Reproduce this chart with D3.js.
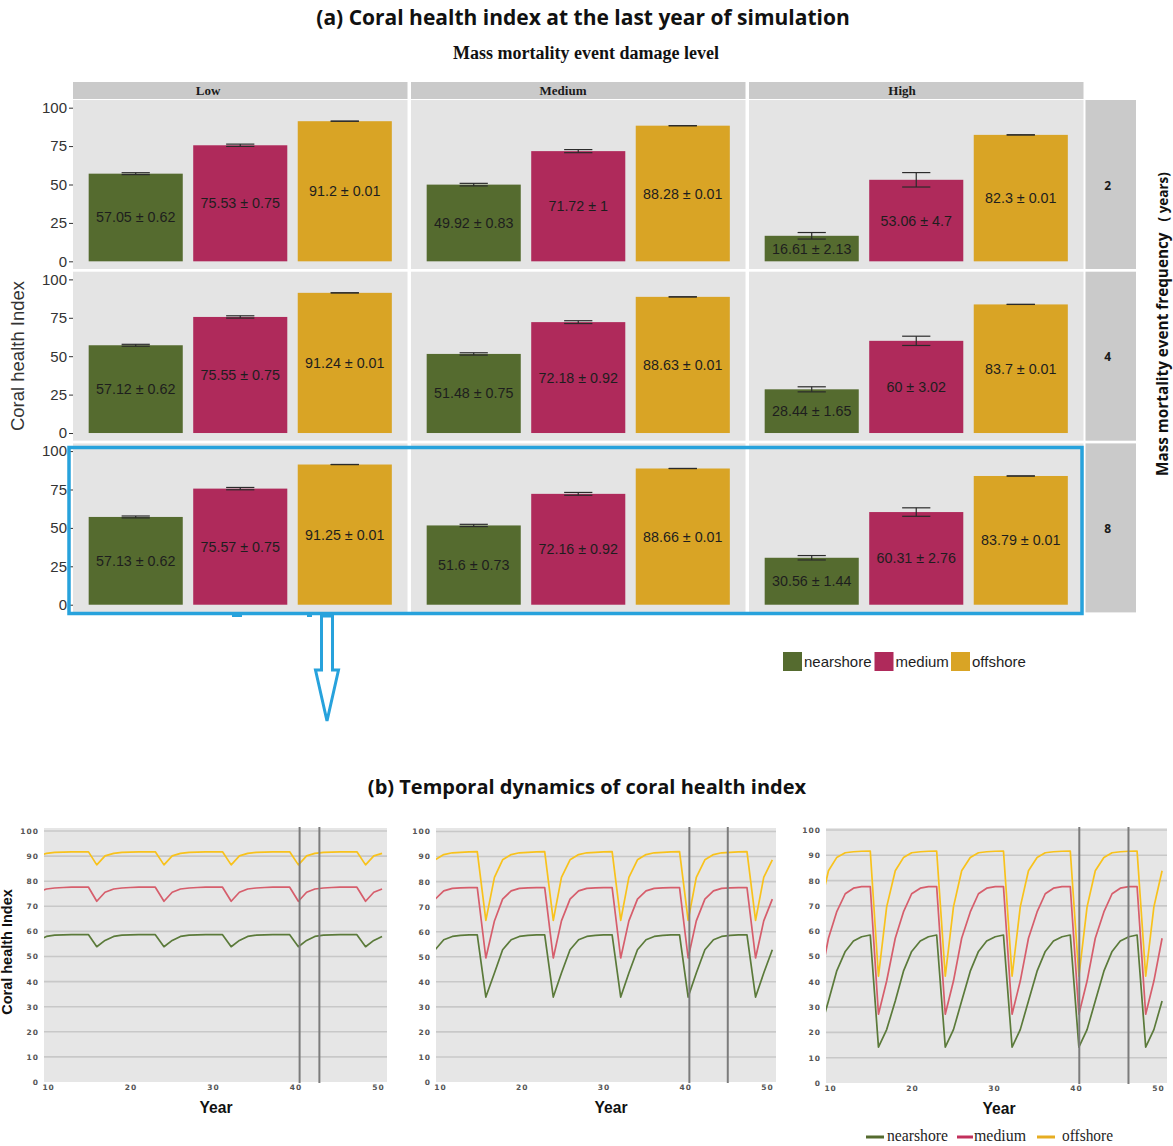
<!DOCTYPE html>
<html>
<head>
<meta charset="utf-8">
<script src="https://cdn.jsdelivr.net/npm/d3@7"></script>
<style>
  body { margin: 0; background: #fff; }
  svg { display: block; }
</style>
</head>
<body>
<svg id="chart" width="1173" height="1146"></svg>
<script>
// ---------- data: (a) coral health index at the last simulated year ----------
const damageLevels = ["Low", "Medium", "High"];
const frequencies = ["2", "4", "8"];
const habitats = ["nearshore", "medium", "offshore"];
const barColors = ["#556b2f", "#af2a5b", "#d9a425"];
const barTicks = [0, 25, 50, 75, 100];

// mean index per damage level (Low, Medium, High), habitats in order
const meanFreq2 = [[57.05, 75.53, 91.2], [49.92, 71.72, 88.28], [16.61, 53.06, 82.3]];
const meanFreq4 = [[57.12, 75.55, 91.24], [51.48, 72.18, 88.63], [28.44, 60, 83.7]];
const meanFreq8 = [[57.13, 75.57, 91.25], [51.6, 72.16, 88.66], [30.56, 60.31, 83.79]];
// standard deviations, same layout
const sdFreq2 = [[0.62, 0.75, 0.01], [0.83, 1, 0.01], [2.13, 4.7, 0.01]];
const sdFreq4 = [[0.62, 0.75, 0.01], [0.75, 0.92, 0.01], [1.65, 3.02, 0.01]];
const sdFreq8 = [[0.62, 0.75, 0.01], [0.73, 0.92, 0.01], [1.44, 2.76, 0.01]];

// ---------- data: (b) yearly coral health index, event every 8 years ----------
// time steps of the low- and high-damage runs
const years = [8.8, 9.8, 10.8, 11.85, 12.85, 13.85, 14.9,
  15.9, 16.9, 17.95, 18.95, 19.95, 21.0, 22.0, 23.0,
  24.05, 25.05, 26.05, 27.1, 28.1, 29.1, 30.15, 31.15,
  32.2, 33.2, 34.2, 35.25, 36.25, 37.25, 38.3, 39.3,
  40.35, 41.35, 42.35, 43.4, 44.4, 45.4, 46.45, 47.45,
  48.5, 49.5, 50.5];
// time steps of the medium-damage run
const yearsMedDamage = [8.4, 9.4, 10.45, 11.5, 12.5, 13.55, 14.55,
  15.6, 16.65, 17.65, 18.7, 19.7, 20.75, 21.8, 22.8,
  23.85, 24.85, 25.9, 26.95, 27.95, 29.0, 30.0, 31.05,
  32.1, 33.1, 34.15, 35.2, 36.2, 37.25, 38.25, 39.3,
  40.35, 41.35, 42.4, 43.45, 44.45, 45.5, 46.5, 47.55,
  48.6, 49.6, 50.65];
const yearTicks = [10, 20, 30, 40, 50];
const indexTicks = [0, 10, 20, 30, 40, 50, 60, 70, 80, 90, 100];
const lineColors = ["#5b7a3a", "#d65e6c", "#f8c21c"];
const legendLineColors = ["#556b2f", "#c2305c", "#e6ad22"];

// low damage
const lowNearshore = [56.4, 58.0, 58.5, 58.6, 58.7, 58.7, 58.7,
  53.9, 56.4, 58.0, 58.5, 58.6, 58.7, 58.7, 58.7,
  53.9, 56.4, 58.0, 58.5, 58.6, 58.7, 58.7, 58.7,
  53.9, 56.4, 58.0, 58.5, 58.6, 58.7, 58.7, 58.7,
  53.9, 56.4, 58.0, 58.5, 58.6, 58.7, 58.7, 58.7,
  53.9, 56.4, 58.0];
const lowMedium = [75.6, 76.9, 77.3, 77.5, 77.6, 77.6, 77.6,
  72.0, 75.6, 76.9, 77.3, 77.5, 77.6, 77.6, 77.6,
  72.0, 75.6, 76.9, 77.3, 77.5, 77.6, 77.6, 77.6,
  72.0, 75.6, 76.9, 77.3, 77.5, 77.6, 77.6, 77.6,
  72.0, 75.6, 76.9, 77.3, 77.5, 77.6, 77.6, 77.6,
  72.0, 75.6, 76.9];
const lowOffshore = [90.1, 91.1, 91.5, 91.6, 91.7, 91.7, 91.7,
  86.5, 90.1, 91.1, 91.5, 91.6, 91.7, 91.7, 91.7,
  86.5, 90.1, 91.1, 91.5, 91.6, 91.7, 91.7, 91.7,
  86.5, 90.1, 91.1, 91.5, 91.6, 91.7, 91.7, 91.7,
  86.5, 90.1, 91.1, 91.5, 91.6, 91.7, 91.7, 91.7,
  86.5, 90.1, 91.1];
// medium damage
const medNearshore = [43.5, 52.8, 56.8, 58.1, 58.5, 58.7, 58.7,
  33.9, 43.5, 52.8, 56.8, 58.1, 58.5, 58.7, 58.7,
  33.9, 43.5, 52.8, 56.8, 58.1, 58.5, 58.7, 58.7,
  33.9, 43.5, 52.8, 56.8, 58.1, 58.5, 58.7, 58.7,
  33.9, 43.5, 52.8, 56.8, 58.1, 58.5, 58.7, 58.7,
  33.9, 43.5, 52.8];
const medMedium = [64.3, 73.0, 76.3, 77.3, 77.5, 77.6, 77.6,
  49.5, 64.3, 73.0, 76.3, 77.3, 77.5, 77.6, 77.6,
  49.5, 64.3, 73.0, 76.3, 77.3, 77.5, 77.6, 77.6,
  49.5, 64.3, 73.0, 76.3, 77.3, 77.5, 77.6, 77.6,
  49.5, 64.3, 73.0, 76.3, 77.3, 77.5, 77.6, 77.6,
  49.5, 64.3, 73.0];
const medOffshore = [81.7, 88.7, 90.8, 91.5, 91.7, 91.9, 92.0,
  64.5, 81.7, 88.7, 90.8, 91.5, 91.7, 91.9, 92.0,
  64.5, 81.7, 88.7, 90.8, 91.5, 91.7, 91.9, 92.0,
  64.5, 81.7, 88.7, 90.8, 91.5, 91.7, 91.9, 92.0,
  64.5, 81.7, 88.7, 90.8, 91.5, 91.7, 91.9, 92.0,
  64.5, 81.7, 88.7];
// high damage
const highNearshore = [21.1, 32.4, 44.2, 52.0, 56.1, 57.8, 58.5,
  14.2, 21.1, 32.4, 44.2, 52.0, 56.1, 57.8, 58.5,
  14.2, 21.1, 32.4, 44.2, 52.0, 56.1, 57.8, 58.5,
  14.2, 21.1, 32.4, 44.2, 52.0, 56.1, 57.8, 58.5,
  14.2, 21.1, 32.4, 44.2, 52.0, 56.1, 57.8, 58.5,
  14.2, 21.1, 32.4];
const highMedium = [40.3, 57.2, 67.6, 74.8, 77.0, 77.6, 77.6,
  27.2, 40.3, 57.2, 67.6, 74.8, 77.0, 77.6, 77.6,
  27.2, 40.3, 57.2, 67.6, 74.8, 77.0, 77.6, 77.6,
  27.2, 40.3, 57.2, 67.6, 74.8, 77.0, 77.6, 77.6,
  27.2, 40.3, 57.2, 67.6, 74.8, 77.0, 77.6, 77.6,
  27.2, 40.3, 57.2];
const highOffshore = [69.6, 83.9, 89.1, 91.0, 91.4, 91.6, 91.7,
  42.2, 69.6, 83.9, 89.1, 91.0, 91.4, 91.6, 91.7,
  42.2, 69.6, 83.9, 89.1, 91.0, 91.4, 91.6, 91.7,
  42.2, 69.6, 83.9, 89.1, 91.0, 91.4, 91.6, 91.7,
  42.2, 69.6, 83.9, 89.1, 91.0, 91.4, 91.6, 91.7,
  42.2, 69.6, 83.9];
// years marked with vertical reference lines in each panel
const markerYears = [[40.5, 42.9], [40.5, 45.2], [40.4, 46.4]];

// ---------- drawing ----------
const svg = d3.select("#chart");
const SANS = "'Liberation Sans', Arial, sans-serif";
const SERIF = "'Liberation Serif', 'Times New Roman', serif";
const TITLE = "'Open Sans', 'DejaVu Sans', sans-serif";

svg.append("text").attr("x", 583).attr("y", 25).attr("text-anchor", "middle")
  .attr("font-family", TITLE).attr("font-weight", 700).attr("font-size", 21).attr("fill", "#111")
  .text("(a) Coral health index at the last year of simulation");
svg.append("text").attr("x", 586).attr("y", 59).attr("text-anchor", "middle")
  .attr("font-family", SERIF).attr("font-weight", 700).attr("font-size", 18).attr("fill", "#111")
  .text("Mass mortality event damage level");

const facetLeft = 73, facetW = 334.5, facetGapX = 3.5;
const facetTop = 100, facetH = 169, facetGapY = 2.7;
const colStripTop = 82, colStripH = 17;
const colLabelOffsets = [135, 152, 153];
const rowStripX = 1085.5, rowStripW = 50.5;

const xBand = d3.scaleBand().domain(habitats).range([0, facetW]).paddingInner(0.1).paddingOuter(0.15);
const yBar = d3.scaleLinear().domain([-5, 105]).range([facetH, 0]);
const fillOf = d3.scaleOrdinal().domain(habitats).range(barColors);

const meansByFreq = [meanFreq2, meanFreq4, meanFreq8];
const sdsByFreq = [sdFreq2, sdFreq4, sdFreq8];

// column strips
damageLevels.forEach((lvl, ci) => {
  const px = facetLeft + ci * (facetW + facetGapX);
  svg.append("rect").attr("x", px).attr("y", colStripTop).attr("width", facetW).attr("height", colStripH)
    .attr("fill", "#cacaca");
  svg.append("text").attr("x", px + colLabelOffsets[ci]).attr("y", colStripTop + 13).attr("text-anchor", "middle")
    .attr("font-family", SERIF).attr("font-weight", 700).attr("font-size", 13).attr("fill", "#1a1a1a")
    .text(lvl);
});

frequencies.forEach((freq, ri) => {
  const py = facetTop + ri * (facetH + facetGapY);
  // row strip
  svg.append("rect").attr("x", rowStripX).attr("y", py).attr("width", rowStripW).attr("height", facetH)
    .attr("fill", "#cacaca");
  svg.append("text").attr("x", rowStripX + rowStripW / 2 - 3).attr("y", py + facetH / 2 + 5)
    .attr("text-anchor", "middle").attr("font-family", TITLE).attr("font-weight", 700)
    .attr("font-size", 12).attr("fill", "#1a1a1a").text(freq);

  damageLevels.forEach((lvl, ci) => {
    const px = facetLeft + ci * (facetW + facetGapX);
    const g = svg.append("g").attr("transform", `translate(${px},${py})`);
    g.append("rect").attr("width", facetW).attr("height", facetH).attr("fill", "#e4e4e4");

    const rows = habitats.map((h, k) => ({ h, mean: meansByFreq[ri][ci][k], sd: sdsByFreq[ri][ci][k] }));

    g.selectAll("rect.bar").data(rows).join("rect").attr("class", "bar")
      .attr("x", r => xBand(r.h)).attr("width", xBand.bandwidth())
      .attr("y", r => yBar(r.mean)).attr("height", r => yBar(0) - yBar(r.mean))
      .attr("fill", r => fillOf(r.h));

    const capW = xBand.bandwidth() * 0.3;
    const cx = r => xBand(r.h) + xBand.bandwidth() / 2;
    const eb = g.selectAll("g.err").data(rows).join("g").attr("class", "err")
      .attr("stroke", "#2b2b2b").attr("stroke-width", 1.2);
    eb.append("line").attr("x1", cx).attr("x2", cx)
      .attr("y1", r => yBar(r.mean - r.sd)).attr("y2", r => yBar(r.mean + r.sd));
    eb.append("line").attr("x1", r => cx(r) - capW / 2).attr("x2", r => cx(r) + capW / 2)
      .attr("y1", r => yBar(r.mean + r.sd)).attr("y2", r => yBar(r.mean + r.sd));
    eb.append("line").attr("x1", r => cx(r) - capW / 2).attr("x2", r => cx(r) + capW / 2)
      .attr("y1", r => yBar(r.mean - r.sd)).attr("y2", r => yBar(r.mean - r.sd));

    g.selectAll("text.val").data(rows).join("text").attr("class", "val")
      .attr("x", cx)
      .attr("y", r => yBar(r.mean / 2) + 5)
      .attr("text-anchor", "middle").attr("font-family", SANS).attr("font-size", 14.3).attr("fill", "#1e1e1e")
      .text(r => `${r.mean} ± ${r.sd}`);

    if (ci === 0) {
      const ax = g.append("g").call(d3.axisLeft(yBar).tickValues(barTicks).tickSize(4).tickPadding(2));
      ax.select(".domain").remove();
      ax.selectAll("line").attr("stroke", "#333");
      ax.selectAll("text").attr("font-family", SANS).attr("font-size", 15).attr("fill", "#333");
    }
  });
});

// axis titles of the facet grid
svg.append("text").attr("transform", "translate(24,356) rotate(-90)").attr("text-anchor", "middle")
  .attr("font-family", SANS).attr("font-size", 18.5).attr("fill", "#333").text("Coral health Index");
const rTitle = svg.append("text").attr("transform", "translate(1168,476) rotate(-90)")
  .attr("font-family", TITLE).attr("font-weight", 700).attr("font-size", 15.3).attr("fill", "#111");
rTitle.append("tspan").text("Mass mortality event frequency");
rTitle.append("tspan").attr("dx", 11).attr("font-size", 13.5).text("( years)");

// legend for the bars
const legA = svg.append("g").attr("transform", "translate(783,652)");
const legAOffsets = [0, 91.5, 168];
habitats.forEach((h, i) => {
  legA.append("rect").attr("x", legAOffsets[i]).attr("y", 0).attr("width", 19).attr("height", 19).attr("fill", barColors[i]);
  legA.append("text").attr("x", legAOffsets[i] + 21).attr("y", 15).attr("font-family", SANS)
    .attr("font-size", 15).attr("fill", "#1e1e1e").text(h);
});

// highlight frame around the 8-year row and arrow to panel (b)
const blue = "#27a2dc";
svg.append("rect").attr("x", 69).attr("y", 447.5).attr("width", 1013).attr("height", 166)
  .attr("fill", "none").attr("stroke", blue).attr("stroke-width", 3.5);
svg.append("path").attr("d", "M321.5,616 V670 H315.5 L327,721 L338.5,670 H332.5 V616 Z")
  .attr("fill", "#fff").attr("stroke", blue).attr("stroke-width", 3).attr("stroke-linejoin", "miter");
// small stray strokes under the frame
svg.append("line").attr("x1", 232).attr("x2", 242).attr("y1", 616).attr("y2", 616)
  .attr("stroke", blue).attr("stroke-width", 2);
svg.append("line").attr("x1", 307).attr("x2", 312).attr("y1", 616).attr("y2", 616)
  .attr("stroke", blue).attr("stroke-width", 2);

// ---------- (b) temporal dynamics ----------
svg.append("text").attr("x", 587).attr("y", 794).attr("text-anchor", "middle")
  .attr("font-family", TITLE).attr("font-weight", 700).attr("font-size", 20).attr("fill", "#111")
  .text("(b) Temporal dynamics of coral health index");

const linePanels = [
  { t: years, series: [lowNearshore, lowMedium, lowOffshore], left: 44, right: 387, top: 828, y0: 1082, y100: 831, titleX: 216 },
  { t: yearsMedDamage, series: [medNearshore, medMedium, medOffshore], left: 436, right: 776, top: 828, y0: 1082, y100: 831.5, titleX: 611 },
  { t: years, series: [highNearshore, highMedium, highOffshore], left: 826, right: 1167, top: 828, y0: 1083, y100: 830, titleX: 999 }
];

linePanels.forEach((p, pi) => {
  const xs = d3.scaleLinear().domain([9.5, 51.1]).range([p.left, p.right]);
  const ys = d3.scaleLinear().domain([0, 100]).range([p.y0, p.y100]);
  const g = svg.append("g");
  g.append("rect").attr("x", p.left).attr("y", p.top).attr("width", p.right - p.left).attr("height", p.y0 - p.top)
    .attr("fill", "#e6e6e6");
  g.selectAll("line.grid").data(indexTicks.slice(1)).join("line").attr("class", "grid")
    .attr("x1", p.left).attr("x2", p.right).attr("y1", d => ys(d)).attr("y2", d => ys(d))
    .attr("stroke", "#c8c8c8").attr("stroke-width", 1.6);

  const clipId = `clip${pi}`;
  svg.append("clipPath").attr("id", clipId).append("rect")
    .attr("x", p.left).attr("y", p.top).attr("width", p.right - p.left).attr("height", p.y0 - p.top);
  const line = d3.line().x((d, i) => xs(p.t[i])).y(d => ys(d));
  g.append("g").attr("clip-path", `url(#${clipId})`).selectAll("path").data(p.series).join("path")
    .attr("d", line).attr("fill", "none").attr("stroke", (d, i) => lineColors[i]).attr("stroke-width", 1.7)
    .attr("stroke-linejoin", "round");

  g.selectAll("line.marker").data(markerYears[pi]).join("line").attr("class", "marker")
    .attr("x1", d => xs(d)).attr("x2", d => xs(d)).attr("y1", p.top - 1).attr("y2", p.y0 + 1)
    .attr("stroke", "#7c7c7c").attr("stroke-width", 2);

  const yAx = g.append("g").attr("transform", `translate(${p.left - 3},0)`)
    .call(d3.axisLeft(ys).tickValues(indexTicks).tickSize(0).tickPadding(2));
  yAx.select(".domain").remove();
  yAx.selectAll("text").attr("font-family", "'DejaVu Sans', sans-serif").attr("font-weight", 700)
    .attr("font-size", 7.5).attr("letter-spacing", 1).attr("fill", "#555");
  const xAx = g.append("g").attr("transform", `translate(0,${p.y0 + 1})`)
    .call(d3.axisBottom(xs).tickValues(yearTicks).tickSize(0).tickPadding(2));
  xAx.select(".domain").remove();
  xAx.selectAll("text").attr("font-family", "'DejaVu Sans', sans-serif").attr("font-weight", 700)
    .attr("font-size", 7.5).attr("letter-spacing", 1).attr("fill", "#555");

  g.append("text").attr("x", p.titleX).attr("y", p.y0 + 31).attr("text-anchor", "middle")
    .attr("font-family", SANS).attr("font-weight", 700).attr("font-size", 16).attr("fill", "#111")
    .attr("textLength", 33).attr("lengthAdjust", "spacingAndGlyphs").text("Year");
});

svg.append("text").attr("transform", "translate(12,952) rotate(-90)").attr("text-anchor", "middle")
  .attr("font-family", SANS).attr("font-weight", 700).attr("font-size", 14.5).attr("fill", "#111")
  .text("Coral health Index");

// legend for the lines
const legB = svg.append("g").attr("transform", "translate(0,1137)");
const legBLines = [[866, 884], [957, 973], [1037, 1055]];
const legBText = [[887, 61], [974, 52], [1062, 51]];
habitats.forEach((h, i) => {
  legB.append("line").attr("x1", legBLines[i][0]).attr("x2", legBLines[i][1]).attr("y1", 0).attr("y2", 0)
    .attr("stroke", legendLineColors[i]).attr("stroke-width", 3);
  legB.append("text").attr("x", legBText[i][0]).attr("y", 4).attr("font-family", SERIF)
    .attr("font-size", 16.5).attr("fill", "#1e1e1e")
    .attr("textLength", legBText[i][1]).attr("lengthAdjust", "spacingAndGlyphs").text(h);
});
</script>
</body>
</html>
